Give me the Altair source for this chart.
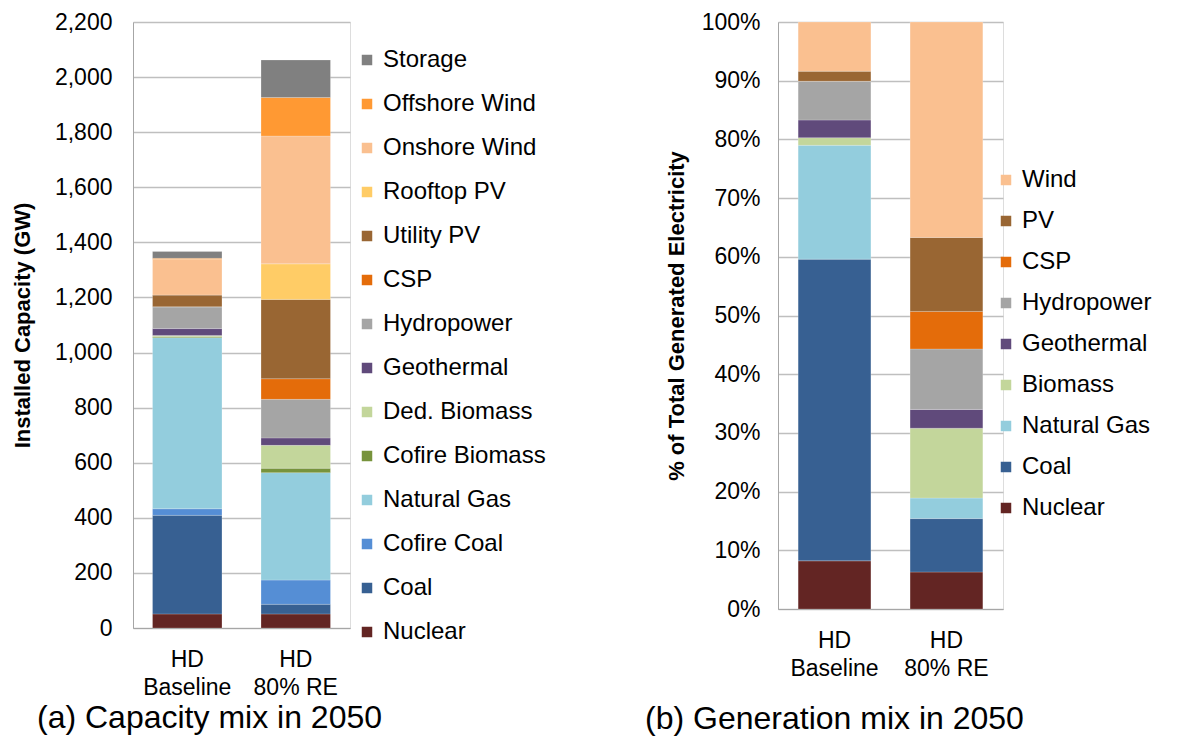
import altair as alt
import pandas as pd

FONT = "Liberation Sans"

# ---------- Capacity mix (GW) ----------
scenarios = ["HD|Baseline", "HD|80% RE"]
cap_tech = ["Nuclear", "Coal", "Cofire Coal", "Natural Gas", "Cofire Biomass",
            "Ded. Biomass", "Geothermal", "Hydropower", "CSP", "Utility PV",
            "Rooftop PV", "Onshore Wind", "Offshore Wind", "Storage"]
cap_colors = ["#632523", "#376092", "#558ED5", "#93CDDD", "#77933C",
              "#C3D69B", "#604A7B", "#A5A5A5", "#E46C0A", "#996633",
              "#FFCC66", "#FAC090", "#FF9933", "#808080"]
cap_baseline = [51, 358, 24, 621, 3, 5, 25, 79, 0, 43, 0, 130, 3, 25]
cap_re80 = [51, 35, 88, 390, 16, 83, 27, 140, 75, 288, 129, 464, 140, 136]

# ---------- Generation mix (%) ----------
gen_tech = ["Nuclear", "Coal", "Natural Gas", "Biomass", "Geothermal",
            "Hydropower", "CSP", "PV", "Wind"]
gen_colors = ["#632523", "#376092", "#93CDDD", "#C3D69B", "#604A7B",
              "#A5A5A5", "#E46C0A", "#996633", "#FAC090"]
gen_baseline = [8.2, 51.4, 19.4, 1.3, 3.0, 6.6, 0.0, 1.7, 8.4]
gen_re80 = [6.3, 9.1, 3.5, 11.9, 3.2, 10.3, 6.4, 12.6, 36.7]

cap_rows = []
for s, vals in zip(scenarios, [cap_baseline, cap_re80]):
    for i, (t, v) in enumerate(zip(cap_tech, vals)):
        cap_rows.append({"scenario": s, "tech": t, "value": v, "idx": i})
cap_df = pd.DataFrame(cap_rows)

gen_rows = []
for s, vals in zip(scenarios, [gen_baseline, gen_re80]):
    for i, (t, v) in enumerate(zip(gen_tech, vals)):
        gen_rows.append({"scenario": s, "tech": t, "value": v, "idx": i})
gen_df = pd.DataFrame(gen_rows)

LBL = 23
LEG = 24

x_axis = alt.Axis(title=None, labelAngle=0, labelExpr="split(datum.label, '|')",
                  labelFontSize=LBL, labelFont=FONT, labelColor="#000000",
                  ticks=False, labelPadding=20, domainColor="#A6A6A6",
                  labelLineHeight=28)

cap_chart = alt.Chart(cap_df).mark_bar(stroke="#FFFFFF", strokeWidth=0.4, strokeOpacity=0.5).encode(
    x=alt.X("scenario:N", sort=scenarios, axis=x_axis,
            scale=alt.Scale(paddingInner=0.36, paddingOuter=0.18)),
    y=alt.Y("value:Q", stack="zero",
            scale=alt.Scale(domain=[0, 2200], nice=False),
            axis=alt.Axis(title="Installed Capacity (GW)", values=list(range(0, 2201, 200)),
                          format=",d", labelFontSize=LBL, labelFont=FONT, labelColor="#000000",
                          titleFontSize=22, titleFont=FONT, titleFontWeight="bold",
                          titleColor="#000000", titlePadding=20,
                          ticks=False, labelPadding=21, domainColor="#A6A6A6",
                          gridColor="#BFBFBF", gridWidth=1.3)),
    color=alt.Color("tech:N",
                    scale=alt.Scale(domain=cap_tech[::-1], range=cap_colors[::-1]),
                    legend=alt.Legend(title=None, orient="none", legendX=222, legendY=26,
                                      symbolType="square", symbolSize=110, symbolStrokeWidth=0,
                                      labelFontSize=LEG, labelFont=FONT, labelColor="#000000",
                                      rowPadding=20, labelOffset=4, labelLimit=300)),
    order=alt.Order("idx:Q", sort="ascending"),
).properties(
    width=217, height=606,
    title=alt.TitleParams("(a) Capacity mix in 2050", orient="bottom", anchor="start",
                          frame="group", dx=-96, offset=4, fontSize=32, font=FONT,
                          fontWeight="normal", color="#000000"),
)

gen_chart = alt.Chart(gen_df).mark_bar(stroke="#FFFFFF", strokeWidth=0.4, strokeOpacity=0.5).encode(
    x=alt.X("scenario:N", sort=scenarios, axis=x_axis,
            scale=alt.Scale(paddingInner=0.35, paddingOuter=0.18)),
    y=alt.Y("value:Q", stack="zero",
            scale=alt.Scale(domain=[0, 100], nice=False),
            axis=alt.Axis(title="% of Total Generated Electricity", values=list(range(0, 101, 10)),
                          labelExpr="datum.value + '%'", labelFontSize=LBL, labelFont=FONT,
                          labelColor="#000000",
                          titleFontSize=22, titleFont=FONT, titleFontWeight="bold",
                          titleColor="#000000", titlePadding=13,
                          ticks=False, labelPadding=18, domainColor="#A6A6A6",
                          gridColor="#BFBFBF", gridWidth=1.3)),
    color=alt.Color("tech:N",
                    scale=alt.Scale(domain=gen_tech[::-1], range=gen_colors[::-1]),
                    legend=alt.Legend(title=None, orient="none", legendX=216, legendY=146,
                                      symbolType="square", symbolSize=110, symbolStrokeWidth=0,
                                      labelFontSize=LEG, labelFont=FONT, labelColor="#000000",
                                      rowPadding=17, labelOffset=4, labelLimit=300)),
    order=alt.Order("idx:Q", sort="ascending"),
).properties(
    width=225, height=587,
    title=alt.TitleParams("(b) Generation mix in 2050", orient="bottom", anchor="start",
                          frame="group", dx=-133, dy=20, offset=4, fontSize=32, font=FONT,
                          fontWeight="normal", color="#000000"),
)

chart = alt.hconcat(cap_chart, gen_chart, spacing=97).resolve_scale(
    color="independent"
).configure_view(stroke=None).configure(padding=2, background="#FFFFFF")

chart.save("out.html", embed_options={"renderer": "svg", "actions": False})
